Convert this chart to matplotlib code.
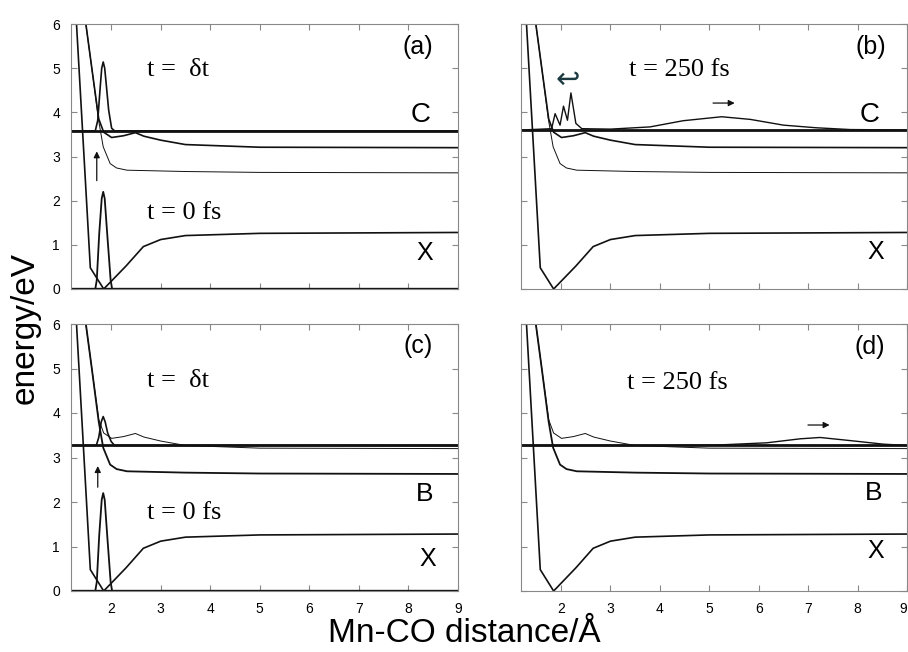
import numpy as np
import matplotlib.pyplot as plt

plt.rcParams['font.family'] = ['Liberation Sans', 'DejaVu Sans']

# potential curves (eV vs Mn-CO distance in A), same in all four panels
r_X = [1.20, 1.58, 1.85, 2.30, 2.65, 3.00, 3.50, 5.00, 9.00]
v_X = [8.00, 0.48, 0.00, 0.52, 0.96, 1.12, 1.21, 1.26, 1.28]

r_C = [1.30, 1.49, 1.61, 1.75, 1.85, 2.01, 2.25, 2.49, 2.66, 3.00, 3.50, 5.00, 9.00]
v_C = [7.60, 6.00, 5.00, 3.85, 3.55, 3.43, 3.47, 3.54, 3.46, 3.37, 3.27, 3.21, 3.20]

r_B = [1.30, 1.49, 1.61, 1.75, 1.84, 1.98, 2.11, 2.32, 3.50, 5.00, 9.00]
v_B = [7.60, 6.00, 5.00, 3.80, 3.22, 2.84, 2.74, 2.69, 2.66, 2.64, 2.63]

# wave packets
base_X = 0.0
r_wp0 = [1.20, 1.68, 1.71, 1.76, 1.81, 1.84, 1.87, 1.92, 1.99, 2.02, 9.00]
v_wp0 = [0.00, 0.00, 0.20, 1.26, 2.05, 2.20, 2.05, 1.26, 0.20, 0.00, 0.00]

base_C = 3.58
r_wpa = [1.20, 1.68, 1.73, 1.78, 1.81, 1.84, 1.87, 1.90, 1.95, 2.01, 2.07, 9.00]
v_wpa = [3.58, 3.58, 3.82, 4.58, 5.00, 5.14, 5.00, 4.65, 4.05, 3.64, 3.58, 3.58]

base_C250 = 3.60
r_wpb = [1.20, 1.81, 1.88, 1.98, 2.05, 2.13, 2.20, 2.30, 2.42, 3.00, 3.80, 4.47,
         5.25, 5.83, 6.50, 7.17, 7.85, 9.00]
v_wpb = [3.60, 3.63, 3.97, 3.71, 4.14, 3.82, 4.44, 3.75, 3.63, 3.62, 3.67, 3.81,
         3.90, 3.84, 3.71, 3.65, 3.61, 3.60]

base_B = 3.27
r_wpc = [1.20, 1.70, 1.75, 1.80, 1.84, 1.88, 1.93, 2.00, 2.07, 9.00]
v_wpc = [3.27, 3.27, 3.45, 3.80, 3.92, 3.80, 3.55, 3.36, 3.27, 3.27]

r_wpd = [1.20, 4.00, 5.15, 6.16, 6.84, 7.24, 7.85, 8.52, 9.00]
v_wpd = [3.27, 3.27, 3.28, 3.33, 3.42, 3.45, 3.38, 3.30, 3.27]

fig = plt.figure(figsize=(9.08, 6.52), dpi=100)
W, H = 908, 652
axa = fig.add_axes([71 / W, 1 - 289 / H, 387 / W, 265 / H])
axb = fig.add_axes([521 / W, 1 - 289 / H, 386 / W, 265 / H])
axc = fig.add_axes([71 / W, 1 - 591 / H, 387 / W, 267 / H])
axd = fig.add_axes([521 / W, 1 - 591 / H, 386 / W, 267 / H])

k = '#111111'
serif = 'Liberation Serif'

for ax in [axa, axb, axc, axd]:
    ax.set_xlim(1.19, 9.0)
    ax.set_ylim(0, 6)
    ax.set_xticks(range(2, 10))
    ax.set_yticks(range(0, 7))
    ax.tick_params(direction='in', top=True, right=True, length=4, width=0.8,
                   color='#888888', labelsize=10, pad=8)
    for s in ax.spines.values():
        s.set_color('#888888')
        s.set_linewidth(0.8)
    ax.plot(r_X, v_X, color=k, lw=1.2)

axa.tick_params(labelbottom=False)
axb.tick_params(labelbottom=False, labelleft=False)
axd.tick_params(labelleft=False)
# last label sits on the figure edge
axd.get_xticklabels()[-1].set_horizontalalignment('right')

# (a)
axa.plot(r_C, v_C, color=k, lw=1.2)
axa.plot(r_B, v_B, color=k, lw=0.7)
axa.axhline(base_C, color=k, lw=2.0)
axa.plot(r_wpa, v_wpa, color=k, lw=1.2)
axa.axhline(base_X, color=k, lw=2.4)
axa.plot(r_wp0, v_wp0, color=k, lw=1.3)
axa.annotate('', xy=(1.71, 3.18), xytext=(1.71, 2.39),
             arrowprops=dict(arrowstyle='-|>', color=k, lw=0.9, mutation_scale=9))
axa.text(2.73, 4.82, 't =  δt', family=serif, fontsize=19)
axa.text(2.72, 1.58, 't = 0 fs', family=serif, fontsize=19)
axa.text(8.19, 5.47, '(a)', fontsize=18, ha='center', va='center')
axa.text(8.25, 3.93, 'C', fontsize=20, ha='center', va='center')
axa.text(8.32, 0.81, 'X', fontsize=18, ha='center', va='center')

# (b)
axb.plot(r_C, v_C, color=k, lw=1.2)
axb.plot(r_B, v_B, color=k, lw=0.7)
axb.axhline(base_C250, color=k, lw=2.0)
axb.plot(r_wpb, v_wpb, color=k, lw=1.0)
axb.annotate('', xy=(5.57, 4.21), xytext=(5.02, 4.21),
             arrowprops=dict(arrowstyle='-|>', color=k, lw=0.9, mutation_scale=9))
axb.text(2.14, 4.73, '↩', family='DejaVu Sans', fontsize=21, ha='center', va='center',
         color='#1a3a40')
axb.text(3.38, 4.82, 't = 250 fs', family=serif, fontsize=19)
axb.text(8.26, 5.47, '(b)', fontsize=18, ha='center', va='center')
axb.text(8.25, 3.95, 'C', fontsize=20, ha='center', va='center')
axb.text(8.36, 0.83, 'X', fontsize=18, ha='center', va='center')

# (c)
axc.plot(r_C, v_C, color=k, lw=0.7)
axc.plot(r_B, v_B, color=k, lw=1.3)
axc.axhline(base_B, color=k, lw=2.0)
axc.plot(r_wpc, v_wpc, color=k, lw=1.2)
axc.axhline(base_X, color=k, lw=2.4)
axc.plot(r_wp0, v_wp0, color=k, lw=1.3)
axc.annotate('', xy=(1.73, 2.87), xytext=(1.73, 2.27),
             arrowprops=dict(arrowstyle='-|>', color=k, lw=0.9, mutation_scale=9))
axc.text(2.73, 4.58, 't =  δt', family=serif, fontsize=19)
axc.text(2.72, 1.61, 't = 0 fs', family=serif, fontsize=19)
axc.text(8.19, 5.50, '(c)', fontsize=18, ha='center', va='center')
axc.text(8.32, 2.17, 'B', fontsize=19, ha='center', va='center')
axc.text(8.38, 0.73, 'X', fontsize=18, ha='center', va='center')

# (d)
axd.plot(r_C, v_C, color=k, lw=0.7)
axd.plot(r_B, v_B, color=k, lw=1.3)
axd.axhline(base_B, color=k, lw=2.0)
axd.plot(r_wpd, v_wpd, color=k, lw=1.0)
axd.annotate('', xy=(7.49, 3.73), xytext=(6.94, 3.73),
             arrowprops=dict(arrowstyle='-|>', color=k, lw=0.9, mutation_scale=9))
axd.text(3.33, 4.54, 't = 250 fs', family=serif, fontsize=19)
axd.text(8.24, 5.48, '(d)', fontsize=18, ha='center', va='center')
axd.text(8.32, 2.20, 'B', fontsize=19, ha='center', va='center')
axd.text(8.36, 0.89, 'X', fontsize=18, ha='center', va='center')

fig.text(25 / W, 1 - 328 / H, 'energy/eV', rotation=90, fontsize=24,
         ha='center', va='center')
fig.text(464 / W, 1 - 634 / H, 'Mn-CO distance/Å', fontsize=24,
         ha='center', va='center')

fig.savefig('out.png', dpi=100)
